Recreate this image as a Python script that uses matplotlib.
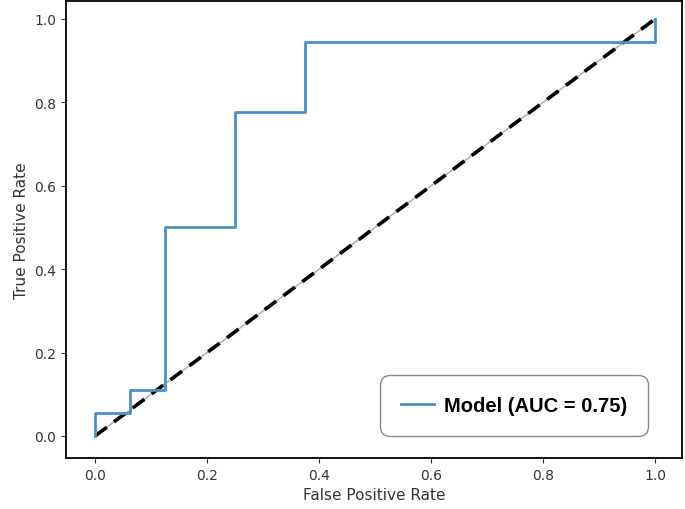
import matplotlib
matplotlib.use("Agg")
import matplotlib.pyplot as plt

fpr = [0.0, 0.0, 0.0625, 0.0625, 0.125, 0.125, 0.25, 0.25, 0.375, 0.375, 1.0, 1.0]
tpr = [0.0, 0.0556, 0.0556, 0.1111, 0.1111, 0.5, 0.5, 0.7778, 0.7778, 0.9444, 0.9444, 1.0]
diag = [0.0, 1.0]
label = "Model (AUC = 0.75)"
ticks = [0.0, 0.2, 0.4, 0.6, 0.8, 1.0]

fig = plt.figure(figsize=(6.85, 5.1), dpi=100)
ax = fig.add_axes([0.0964, 0.1, 0.8992, 0.896])
ax.plot(diag, diag, color="#aaaaaa", lw=1.0, zorder=2)
ax.plot(diag, diag, color="black", lw=2.6, ls=(0, (4, 2.5)), zorder=3)
ax.plot(fpr, tpr, color="#4a90c8", lw=2.0, label=label, zorder=4)
ax.set_xlim(-0.052, 1.048)
ax.set_ylim(-0.053, 1.043)
ax.set_xticks(ticks)
ax.set_yticks(ticks)
ax.tick_params(labelsize=10, colors="#333333")
ax.set_xlabel("False Positive Rate", fontsize=11, color="#333333")
ax.set_ylabel("True Positive Rate", fontsize=11, color="#333333")
for s in ax.spines.values():
    s.set_linewidth(1.3)
leg = ax.legend(loc="lower right", prop={"family": "Liberation Sans", "weight": "bold", "size": 14.5},
                borderpad=1.05, handlelength=1.6, handletextpad=0.5, framealpha=1,
                borderaxespad=0, edgecolor="#888888", bbox_to_anchor=(0.945, 0.048),
                fancybox=True)
leg.get_frame().set_linewidth(1.0)
leg.get_frame().set_boxstyle("round", pad=0, rounding_size=0.5)
fig.savefig("out.png", dpi=100)
